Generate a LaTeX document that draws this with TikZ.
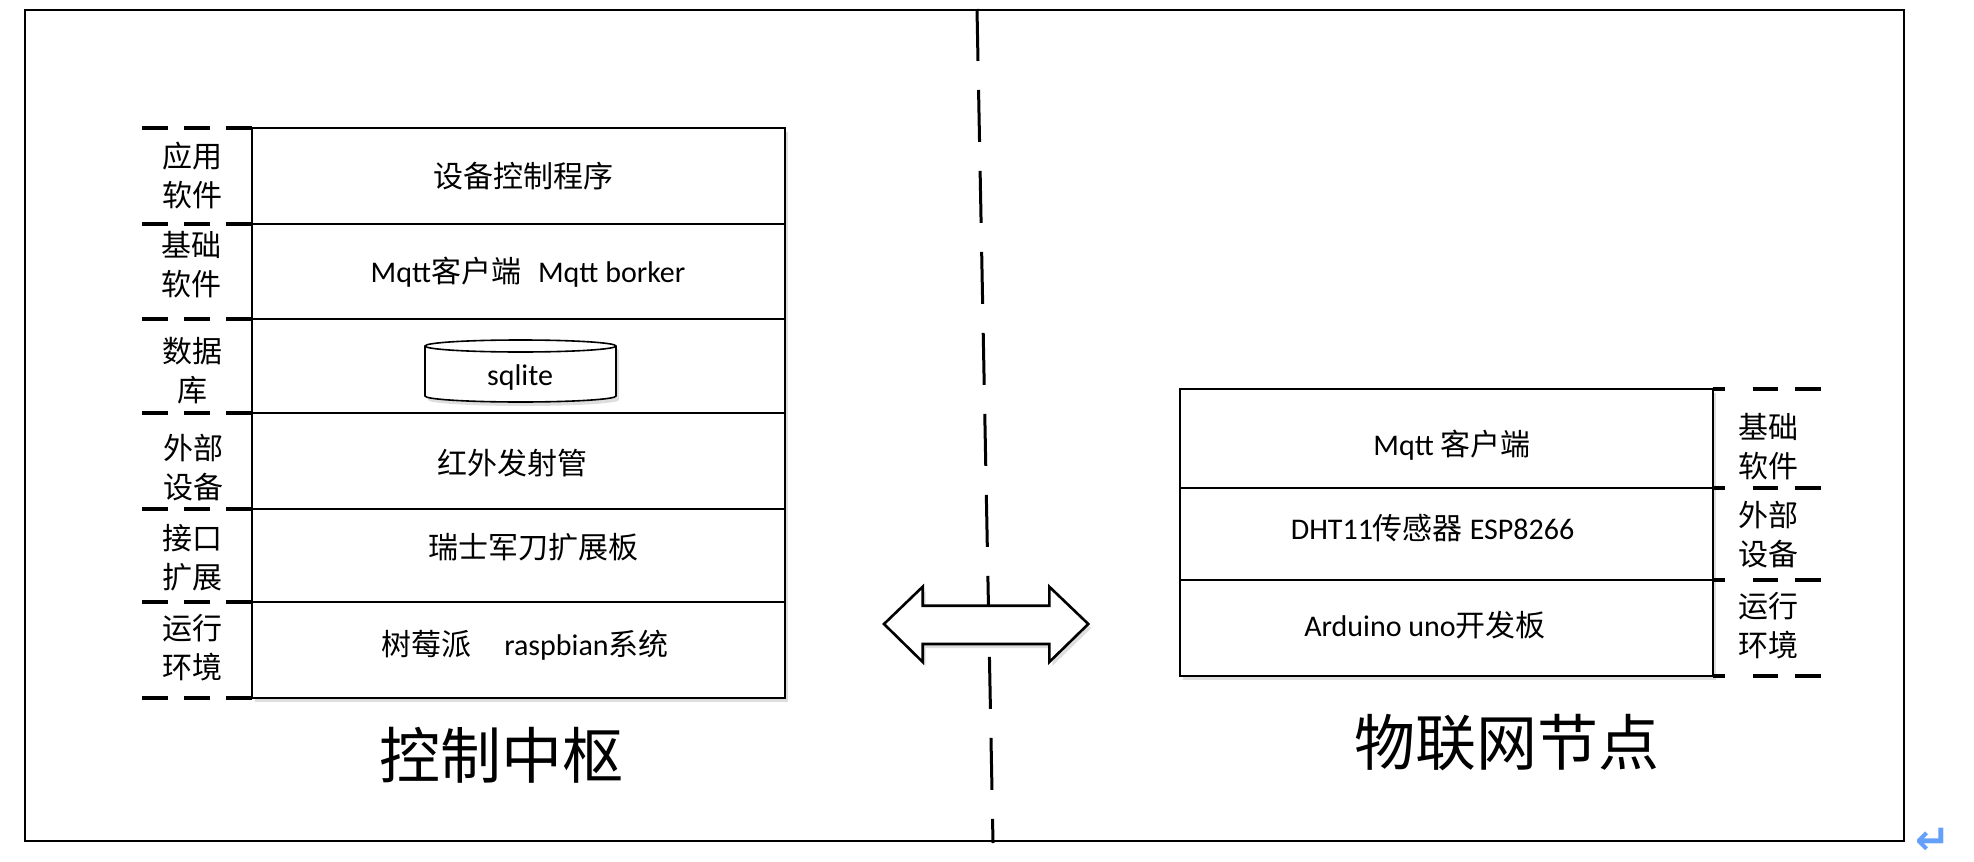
\documentclass[tikz,border=0pt]{standalone}
\usepackage{fontspec}
\setmainfont{Carlito}
\newfontfamily\cjk{Noto Sans CJK SC}
\newfontfamily\dejavu{DejaVu Sans}
\usetikzlibrary{shadows}
\definecolor{retblue}{RGB}{100,160,250}
\begin{document}
\begin{tikzpicture}[x=1pt,y=-1pt,
  framebox/.style={draw=black, line width=1.6pt},
  rowL/.style={draw=black, line width=2pt, minimum width=533pt, inner sep=0pt, outer sep=0pt, anchor=north west},
  rowR/.style={draw=black, line width=2pt, minimum width=532.6pt, inner sep=0pt, outer sep=0pt, anchor=north west},
  sidedash/.style={line width=3.8pt, dash pattern=on 26pt off 16pt},
  sidedashR/.style={line width=3.8pt, dash pattern=on 12pt off 28pt on 25pt off 17pt on 26pt off 100pt},
  middash/.style={line width=3pt, dash pattern=on 52pt off 29pt},
  txt/.style={inner sep=0pt, align=center, font=\fontsize{30}{39}\selectfont},
  sidetxt/.style={inner sep=0pt, align=center, font=\cjk\fontsize{30}{39}\selectfont},
  title/.style={inner sep=0pt, font=\cjk\fontsize{61}{61}\selectfont},
  softshadow/.style={drop shadow={shadow xshift=3pt, shadow yshift=-4pt, opacity=0.13, fill=black}},
  bigarrow/.style={draw=black, fill=white, line width=2.6pt, line join=miter, softshadow}
]
\useasboundingbox (0,0) rectangle (1974,862);

% outer frame
\node[framebox, minimum width=1879pt, minimum height=831.3pt, inner sep=0pt, outer sep=0pt, anchor=north west] (frame) at (25,9.7) {};

% middle dashed divider
\coordinate (dtop) at (977,9);
\coordinate (dbot) at (993,843);
\draw[middash] (dtop) -- (dbot);

% ---------- left stack ----------
\fill[white, softshadow] (252,128) rectangle (785,698);
\node[rowL, minimum height=96pt] (la) at (252,128) {};
\node[rowL, minimum height=95pt] (lb) at (252,224) {};
\node[rowL, minimum height=94pt] (lc) at (252,319) {};
\node[rowL, minimum height=96pt] (ld) at (252,413) {};
\node[rowL, minimum height=93pt] (le) at (252,509) {};
\node[rowL, minimum height=96pt] (lf) at (252,602) {};

\foreach \n in {la,lb,lc,ld,le,lf}
  \draw[sidedash] ([xshift=-110pt]\n.north west) -- (\n.north west);
\draw[sidedash] ([xshift=-110pt]lf.south west) -- (lf.south west);

\node[sidetxt] (lla) at (192,175) {应用\\软件};
\node[sidetxt] (llb) at (191,265) {基础\\软件};
\node[sidetxt] (llc) at (192,371) {数据\\库};
\node[sidetxt] (lld) at (193,468) {外部\\设备};
\node[sidetxt] (lle) at (192,558) {接口\\扩展};
\node[sidetxt] (llf) at (192,647.5) {运行\\环境};

\node[txt] (ta) at (523,176) {\cjk 设备控制程序};
\node[txt] (tb) at (528,272) {Mqtt{\cjk 客户端}\hspace{17pt}Mqtt borker};

% sqlite cylinder
\path[fill=white, draw=black, line width=1.6pt, softshadow]
  (425,346) -- (425,396) arc[start angle=180, end angle=360, x radius=95.5pt, y radius=6pt]
  -- (616,346) arc[start angle=0, end angle=180, x radius=95.5pt, y radius=6pt] -- cycle;
\draw[line width=1.6pt] (425,346) arc[start angle=180, end angle=360, x radius=95.5pt, y radius=6pt];
\node[txt] (tc) at (520,377) {sqlite};

\node[txt] (td) at (512,463) {\cjk 红外发射管};
\node[txt] (te) at (533,547) {\cjk 瑞士军刀扩展板};
\node[txt] (tf) at (525,645) {{\cjk 树莓派}\hspace{33pt}raspbian{\cjk 系统}};

\node[title] (tl) at (501,755) {控制中枢};

% ---------- right stack ----------
\fill[white, softshadow] (1180,389) rectangle (1712.6,676);
\node[rowR, minimum height=99pt] (ra) at (1180,389) {};
\node[rowR, minimum height=92pt] (rb) at (1180,488) {};
\node[rowR, minimum height=96pt] (rc) at (1180,580) {};

\foreach \n in {ra,rb,rc}
  \draw[sidedashR] (\n.north east) -- ([xshift=108pt]\n.north east);
\draw[sidedashR] (rc.south east) -- ([xshift=108pt]rc.south east);

\node[sidetxt] (rla) at (1768,446.6) {基础\\软件};
\node[sidetxt] (rlb) at (1768,535) {外部\\设备};
\node[sidetxt] (rlc) at (1768,625.7) {运行\\环境};

\node[txt] (rta) at (1452,445) {Mqtt {\cjk 客户端}};
\node[txt] (rtb) at (1432.5,528) {DHT11{\cjk 传感器} ESP8266};
\node[txt] (rtc) at (1425,625) {Arduino uno{\cjk 开发板}};

\node[title] (tr) at (1507,743) {物联网节点};

% ---------- double arrow ----------
\draw[bigarrow] (884,624) -- (922.7,586.7) -- (922.7,605.7) -- (1049.3,605.7) -- (1049.3,586.7)
  -- (1088.3,624) -- (1049.3,662) -- (1049.3,644) -- (922.7,644) -- (922.7,662) -- cycle;

% paragraph mark
\node[inner sep=0pt, text=retblue, font=\dejavu\bfseries\fontsize{42}{42}\selectfont] (ret) at (1933,841) {↵};
\end{tikzpicture}
\end{document}
